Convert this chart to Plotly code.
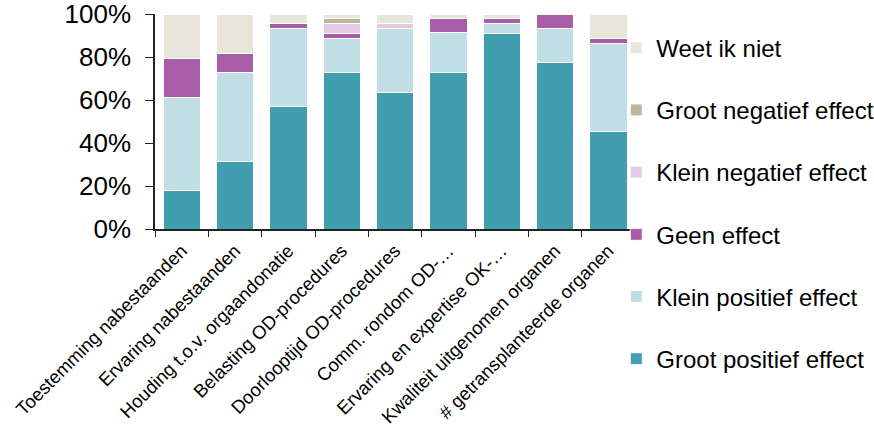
import plotly.graph_objects as go

categories = [
    "Toestemming nabestaanden",
    "Ervaring nabestaanden",
    "Houding t.o.v. orgaandonatie",
    "Belasting OD-procedures",
    "Doorlooptijd OD-procedures",
    "Comm. rondom OD-…",
    "Ervaring en expertise OK-…",
    "Kwaliteit uitgenomen organen",
    "# getransplanteerde organen",
]

groot_positief = [17.8, 31.5, 56.9, 72.9, 63.6, 72.9, 91.0, 77.5, 45.4]
klein_positief = [43.5, 41.4, 36.3, 15.8, 29.6, 18.3, 4.7, 15.8, 41.0]
geen_effect = [18.0, 8.8, 2.3, 2.2, 0.0, 6.6, 2.1, 6.7, 2.1]
klein_negatief = [0.0, 0.0, 0.0, 4.8, 2.3, 0.0, 0.0, 0.0, 0.0]
groot_negatief = [0.0, 0.0, 0.0, 2.1, 0.0, 0.0, 0.0, 0.0, 0.0]
weet_ik_niet = [20.7, 18.3, 4.5, 2.2, 4.5, 2.2, 2.2, 0.0, 11.5]

series = [
    ("Groot positief effect", groot_positief, "#409EAE"),
    ("Klein positief effect", klein_positief, "#C0DEE3"),
    ("Geen effect", geen_effect, "#A95CA8"),
    ("Klein negatief effect", klein_negatief, "#E4C9E4"),
    ("Groot negatief effect", groot_negatief, "#BDB698"),
    ("Weet ik niet", weet_ik_niet, "#E8E6DA"),
]

fig = go.Figure()
n = len(series)
for i, (name, vals, color) in enumerate(series):
    fig.add_trace(go.Bar(
        x=categories, y=vals, name=name, legendgroup=name,
        legendrank=n - i,
        marker=dict(color=color, line=dict(color="white", width=1)),
    ))

font_family = "Liberation Sans, Arial, sans-serif"

fig.update_layout(
    barmode="stack",
    bargap=0.3,
    width=874, height=427,
    margin=dict(l=155, r=239, t=14, b=198, autoexpand=False),
    paper_bgcolor="white",
    plot_bgcolor="white",
    font=dict(family=font_family, color="black"),
    showlegend=True,
    legend=dict(
        x=0.961, xanchor="left",
        yref="container", y=0.94, yanchor="top",
        maxheight=420,
        traceorder="grouped",
        tracegroupgap=28,
        font=dict(size=24, family=font_family, color="black"),
        bgcolor="rgba(0,0,0,0)",
    ),
    xaxis=dict(
        showline=True, linecolor="#222", linewidth=1.5,
        ticks="outside", tickson="boundaries", ticklen=6, tickcolor="#222",
        tickangle=-45, automargin=False, ticklabeloverflow="allow",
        ticklabelstandoff=2,
        tickfont=dict(size=18.5, family=font_family, color="black"),
        showgrid=False,
    ),
    yaxis=dict(
        range=[0, 100], dtick=20, ticksuffix="%",
        showline=True, linecolor="#222", linewidth=1.5,
        ticks="outside", ticklen=8, tickcolor="#222", automargin=False,
        ticklabeloverflow="allow", ticklabelstandoff=9,
        tickfont=dict(size=26, family=font_family, color="black"),
        showgrid=False, zeroline=False,
    ),
)

fig.write_html(
    "out.html",
    config={"displayModeBar": False},
    post_script="document.body.style.margin='0';",
)
